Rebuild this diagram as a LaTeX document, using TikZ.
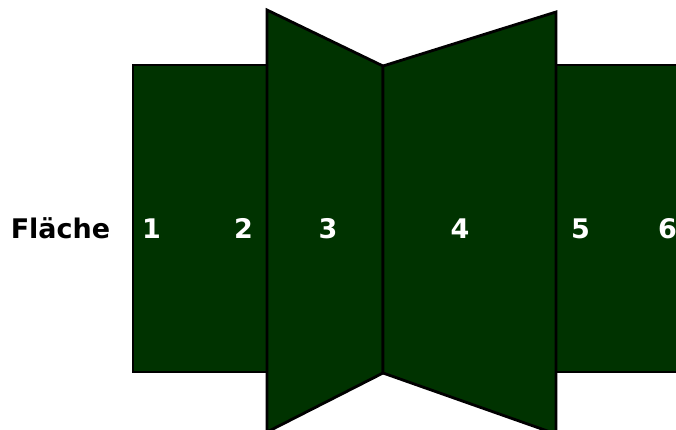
\documentclass[tikz,border=0pt]{standalone}
\usepackage{fontspec}
\setmainfont{DejaVu Sans}
\definecolor{panelgreen}{HTML}{003300}
\tikzset{
	panel/.style={draw=black, line width=2.8pt, line join=miter, fill=panelgreen},
	facelabel/.style={anchor=base, inner sep=0pt, text=white, font=\bfseries\fontsize{27}{31}\selectfont},
	rowlabel/.style={anchor=base, inner sep=0pt, text=black, font=\bfseries\fontsize{27}{31}\selectfont}
}

\begin{document}
\begin{tikzpicture}[x=1pt, y=1pt]
	\useasboundingbox (0,0) rectangle (676,429);
	\clip (0,0) rectangle (676,429);
	% --- outer faces ---
	\draw[panel] (133,364) rectangle (267,57);
	\draw[panel] (556,364) rectangle (690,57);
	% --- folded faces ---
	\draw[panel] (267,419) -- (383,363) -- (383,56) -- (267,-3) -- cycle;
	\draw[panel] (383,363) -- (556,417) -- (556,-5) -- (383,56) -- cycle;

	% Labels
	\node[rowlabel] (flaeche) at (60.5,191) {Fläche};
	\node[facelabel] (f1) at (151.5,191) {1};
	\node[facelabel] (f2) at (243.5,191) {2};
	\node[facelabel] (f3) at (328,191) {3};
	\node[facelabel] (f4) at (460,191) {4};
	\node[facelabel] (f5) at (580.5,191) {5};
	\node[facelabel] (f6) at (667.5,191) {6};
\end{tikzpicture}
\end{document}
